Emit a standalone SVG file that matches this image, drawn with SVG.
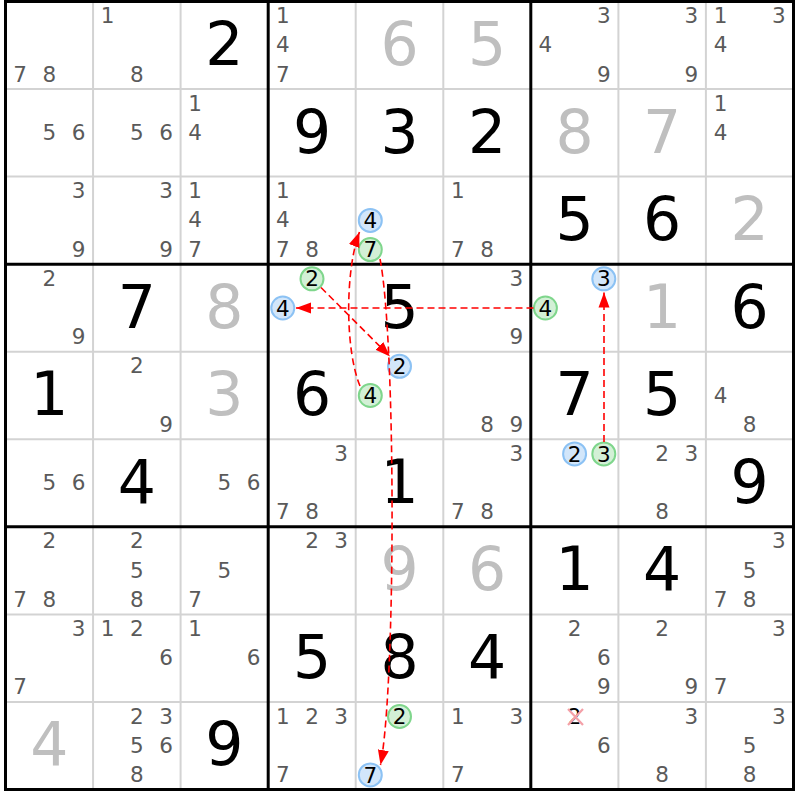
<svg xmlns="http://www.w3.org/2000/svg" width="800" height="800" viewBox="0 0 800 800">
<style>
text{font-family:"DejaVu Sans","Liberation Sans",sans-serif;text-anchor:middle}
.n{font-size:21.5px;fill:#5a5a5a}
.k{font-size:21.5px;fill:#000}
.b{font-size:60px;fill:#000}
.s{font-size:60px;fill:#bfbfbf}
.cb{fill:#d2e6fa;stroke:#8cc2f4;stroke-width:2}
.cg{fill:#d3f0d6;stroke:#7fd68c;stroke-width:2}
.thin{stroke:#d3d3d3;stroke-width:2}
.thick{stroke:#000;stroke-width:3}
.lk{fill:none;stroke:#f00;stroke-width:1.6;stroke-dasharray:7,4}
</style>
<defs>
<marker id="ah" markerUnits="userSpaceOnUse" markerWidth="16" markerHeight="12" refX="15" refY="6" orient="auto">
<path d="M0,0.5 L15,6 L0,11.5 z" fill="#f00"/>
</marker>
</defs>
<rect width="800" height="800" fill="#fff"/>
<g id="grid">
<g class="thin">
<line x1="93.06" y1="1.5" x2="93.06" y2="789.5"/><line x1="180.6" y1="1.5" x2="180.6" y2="789.5"/>
<line x1="355.7" y1="1.5" x2="355.7" y2="789.5"/><line x1="443.3" y1="1.5" x2="443.3" y2="789.5"/>
<line x1="618.4" y1="1.5" x2="618.4" y2="789.5"/><line x1="705.9" y1="1.5" x2="705.9" y2="789.5"/>
<line x1="5.5" y1="89.06" x2="793.5" y2="89.06"/><line x1="5.5" y1="176.6" x2="793.5" y2="176.6"/>
<line x1="5.5" y1="351.7" x2="793.5" y2="351.7"/><line x1="5.5" y1="439.3" x2="793.5" y2="439.3"/>
<line x1="5.5" y1="614.4" x2="793.5" y2="614.4"/><line x1="5.5" y1="701.9" x2="793.5" y2="701.9"/>
</g>
<g class="thick">
<line x1="268.2" y1="1.5" x2="268.2" y2="789.5"/><line x1="530.8" y1="1.5" x2="530.8" y2="789.5"/>
<line x1="5.5" y1="264.2" x2="793.5" y2="264.2"/><line x1="5.5" y1="526.8" x2="793.5" y2="526.8"/>
<rect x="5.5" y="1.5" width="788" height="788" fill="none"/>
</g>
</g>
<g id="r0c0" class="n"><text x="20.1" y="81.5">7</text><text x="49.3" y="81.5">8</text></g>
<g id="r0c1" class="n"><text x="107.6" y="23.1">1</text><text x="136.8" y="81.5">8</text></g>
<g id="r0c2"><text class="b" x="224.4" y="65">2</text></g>
<g id="r0c3" class="n"><text x="282.8" y="23.1">1</text><text x="282.8" y="52.3">4</text><text x="282.8" y="81.5">7</text></g>
<g id="r0c4"><text class="s" x="399.5" y="65">6</text></g>
<g id="r0c5"><text class="s" x="487.1" y="65">5</text></g>
<g id="r0c6" class="n"><text x="603.8" y="23.1">3</text><text x="545.4" y="52.3">4</text><text x="603.8" y="81.5">9</text></g>
<g id="r0c7" class="n"><text x="691.4" y="23.1">3</text><text x="691.4" y="81.5">9</text></g>
<g id="r0c8" class="n"><text x="720.5" y="23.1">1</text><text x="778.9" y="23.1">3</text><text x="720.5" y="52.3">4</text></g>

<g id="r1c0" class="n"><text x="49.3" y="139.8">5</text><text x="78.5" y="139.8">6</text></g>
<g id="r1c1" class="n"><text x="136.8" y="139.8">5</text><text x="166.0" y="139.8">6</text></g>
<g id="r1c2" class="n"><text x="195.2" y="110.6">1</text><text x="195.2" y="139.8">4</text></g>
<g id="r1c3"><text class="b" x="312.0" y="152.6">9</text></g>
<g id="r1c4"><text class="b" x="399.5" y="152.6">3</text></g>
<g id="r1c5"><text class="b" x="487.1" y="152.6">2</text></g>
<g id="r1c6"><text class="s" x="574.6" y="152.6">8</text></g>
<g id="r1c7"><text class="s" x="662.2" y="152.6">7</text></g>
<g id="r1c8" class="n"><text x="720.5" y="110.6">1</text><text x="720.5" y="139.8">4</text></g>

<g id="r2c0" class="n"><text x="78.5" y="198.2">3</text><text x="78.5" y="256.6">9</text></g>
<g id="r2c1" class="n"><text x="166.0" y="198.2">3</text><text x="166.0" y="256.6">9</text></g>
<g id="r2c2" class="n"><text x="195.2" y="198.2">1</text><text x="195.2" y="227.4">4</text><text x="195.2" y="256.6">7</text></g>
<g id="r2c3" class="n"><text x="282.8" y="198.2">1</text><text x="282.8" y="227.4">4</text><text x="282.8" y="256.6">7</text><text x="312.0" y="256.6">8</text></g>
<g id="r2c4"><circle class="cb" cx="370.3" cy="220.4" r="11.5"/><text class="k" x="370.3" y="228">4</text><circle class="cg" cx="370.3" cy="249.6" r="11.5"/><text class="k" x="370.3" y="257.2">7</text></g>
<g id="r2c5" class="n"><text x="457.9" y="198.2">1</text><text x="457.9" y="256.6">7</text><text x="487.1" y="256.6">8</text></g>
<g id="r2c6"><text class="b" x="574.6" y="240.1">5</text></g>
<g id="r2c7"><text class="b" x="662.2" y="240.1">6</text></g>
<g id="r2c8"><text class="s" x="749.7" y="240.1">2</text></g>

<g id="r3c0" class="n"><text x="49.3" y="285.8">2</text><text x="78.5" y="344.2">9</text></g>
<g id="r3c1"><text class="b" x="136.8" y="327.7">7</text></g>
<g id="r3c2"><text class="s" x="224.4" y="327.7">8</text></g>
<g id="r3c3"><circle class="cg" cx="312.0" cy="278.8" r="11.5"/><text class="k" x="312.0" y="286.4">2</text><circle class="cb" cx="282.8" cy="308.0" r="11.5"/><text class="k" x="282.8" y="315.6">4</text></g>
<g id="r3c4"><text class="b" x="399.5" y="327.7">5</text></g>
<g id="r3c5" class="n"><text x="516.3" y="285.8">3</text><text x="516.3" y="344.2">9</text></g>
<g id="r3c6"><circle class="cb" cx="603.8" cy="278.8" r="11.5"/><text class="k" x="603.8" y="286.4">3</text><circle class="cg" cx="545.4" cy="308.0" r="11.5"/><text class="k" x="545.4" y="315.6">4</text></g>
<g id="r3c7"><text class="s" x="662.2" y="327.7">1</text></g>
<g id="r3c8"><text class="b" x="749.7" y="327.7">6</text></g>

<g id="r4c0"><text class="b" x="49.3" y="415.2">1</text></g>
<g id="r4c1" class="n"><text x="136.8" y="373.3">2</text><text x="166.0" y="431.7">9</text></g>
<g id="r4c2"><text class="s" x="224.4" y="415.2">3</text></g>
<g id="r4c3"><text class="b" x="312.0" y="415.2">6</text></g>
<g id="r4c4"><circle class="cb" cx="399.5" cy="366.3" r="11.5"/><text class="k" x="399.5" y="373.9">2</text><circle class="cg" cx="370.3" cy="395.5" r="11.5"/><text class="k" x="370.3" y="403.1">4</text></g>
<g id="r4c5" class="n"><text x="487.1" y="431.7">8</text><text x="516.3" y="431.7">9</text></g>
<g id="r4c6"><text class="b" x="574.6" y="415.2">7</text></g>
<g id="r4c7"><text class="b" x="662.2" y="415.2">5</text></g>
<g id="r4c8" class="n"><text x="720.5" y="402.5">4</text><text x="749.7" y="431.7">8</text></g>

<g id="r5c0" class="n"><text x="49.3" y="490.1">5</text><text x="78.5" y="490.1">6</text></g>
<g id="r5c1"><text class="b" x="136.8" y="502.8">4</text></g>
<g id="r5c2" class="n"><text x="224.4" y="490.1">5</text><text x="253.6" y="490.1">6</text></g>
<g id="r5c3" class="n"><text x="341.2" y="460.9">3</text><text x="282.8" y="519.3">7</text><text x="312.0" y="519.3">8</text></g>
<g id="r5c4"><text class="b" x="399.5" y="502.8">1</text></g>
<g id="r5c5" class="n"><text x="516.3" y="460.9">3</text><text x="457.9" y="519.3">7</text><text x="487.1" y="519.3">8</text></g>
<g id="r5c6"><circle class="cb" cx="574.6" cy="453.9" r="11.5"/><text class="k" x="574.6" y="461.5">2</text><circle class="cg" cx="603.8" cy="453.9" r="11.5"/><text class="k" x="603.8" y="461.5">3</text></g>
<g id="r5c7" class="n"><text x="662.2" y="460.9">2</text><text x="691.4" y="460.9">3</text><text x="662.2" y="519.3">8</text></g>
<g id="r5c8"><text class="b" x="749.7" y="502.8">9</text></g>

<g id="r6c0" class="n"><text x="49.3" y="548.4">2</text><text x="20.1" y="606.8">7</text><text x="49.3" y="606.8">8</text></g>
<g id="r6c1" class="n"><text x="136.8" y="548.4">2</text><text x="136.8" y="577.6">5</text><text x="136.8" y="606.8">8</text></g>
<g id="r6c2" class="n"><text x="224.4" y="577.6">5</text><text x="195.2" y="606.8">7</text></g>
<g id="r6c3" class="n"><text x="312.0" y="548.4">2</text><text x="341.2" y="548.4">3</text></g>
<g id="r6c4"><text class="s" x="399.5" y="590.3">9</text></g>
<g id="r6c5"><text class="s" x="487.1" y="590.3">6</text></g>
<g id="r6c6"><text class="b" x="574.6" y="590.3">1</text></g>
<g id="r6c7"><text class="b" x="662.2" y="590.3">4</text></g>
<g id="r6c8" class="n"><text x="778.9" y="548.4">3</text><text x="749.7" y="577.6">5</text><text x="720.5" y="606.8">7</text><text x="749.7" y="606.8">8</text></g>

<g id="r7c0" class="n"><text x="78.5" y="636.0">3</text><text x="20.1" y="694.4">7</text></g>
<g id="r7c1" class="n"><text x="107.6" y="636.0">1</text><text x="136.8" y="636.0">2</text><text x="166.0" y="665.2">6</text></g>
<g id="r7c2" class="n"><text x="195.2" y="636.0">1</text><text x="253.6" y="665.2">6</text></g>
<g id="r7c3"><text class="b" x="312.0" y="677.9">5</text></g>
<g id="r7c4"><text class="b" x="399.5" y="677.9">8</text></g>
<g id="r7c5"><text class="b" x="487.1" y="677.9">4</text></g>
<g id="r7c6" class="n"><text x="574.6" y="636.0">2</text><text x="603.8" y="665.2">6</text><text x="603.8" y="694.4">9</text></g>
<g id="r7c7" class="n"><text x="662.2" y="636.0">2</text><text x="691.4" y="694.4">9</text></g>
<g id="r7c8" class="n"><text x="778.9" y="636.0">3</text><text x="720.5" y="694.4">7</text></g>

<g id="r8c0"><text class="s" x="49.3" y="765.4">4</text></g>
<g id="r8c1" class="n"><text x="136.8" y="723.5">2</text><text x="166.0" y="723.5">3</text><text x="136.8" y="752.7">5</text><text x="166.0" y="752.7">6</text><text x="136.8" y="781.9">8</text></g>
<g id="r8c2"><text class="b" x="224.4" y="765.4">9</text></g>
<g id="r8c3" class="n"><text x="282.8" y="723.5">1</text><text x="312.0" y="723.5">2</text><text x="341.2" y="723.5">3</text><text x="282.8" y="781.9">7</text></g>
<g id="r8c4"><circle class="cg" cx="399.5" cy="716.5" r="11.5"/><text class="k" x="399.5" y="724.1">2</text><circle class="cb" cx="370.3" cy="774.9" r="11.5"/><text class="k" x="370.3" y="782.5">7</text></g>
<g id="r8c5" class="n"><text x="457.9" y="723.5">1</text><text x="516.3" y="723.5">3</text><text x="457.9" y="781.9">7</text></g>
<g id="r8c6"><text class="k" x="574.6" y="723.5">2</text><path d="M568,709 L583,725 M583,709 L568,725" stroke="#f4a0a8" stroke-width="2.2" fill="none"/><text class="n" x="603.8" y="752.7">6</text></g>
<g id="r8c7" class="n"><text x="691.4" y="723.5">3</text><text x="662.2" y="781.9">8</text></g>
<g id="r8c8" class="n"><text x="778.9" y="723.5">3</text><text x="749.7" y="752.7">5</text><text x="749.7" y="781.9">8</text></g>

<g id="links">
<path class="lk" d="M533.5,308 L296,308" marker-end="url(#ah)"/>
<path class="lk" d="M321,287.5 L390,356.5" marker-end="url(#ah)"/>
<path class="lk" d="M360,386 C345,350 345,270 359.5,232" marker-end="url(#ah)"/>
<path class="lk" d="M380,259 C396,340 396,685 380.5,765" marker-end="url(#ah)"/>
<path class="lk" d="M604,442 L604,292.5" marker-end="url(#ah)"/>
</g>
</svg>
